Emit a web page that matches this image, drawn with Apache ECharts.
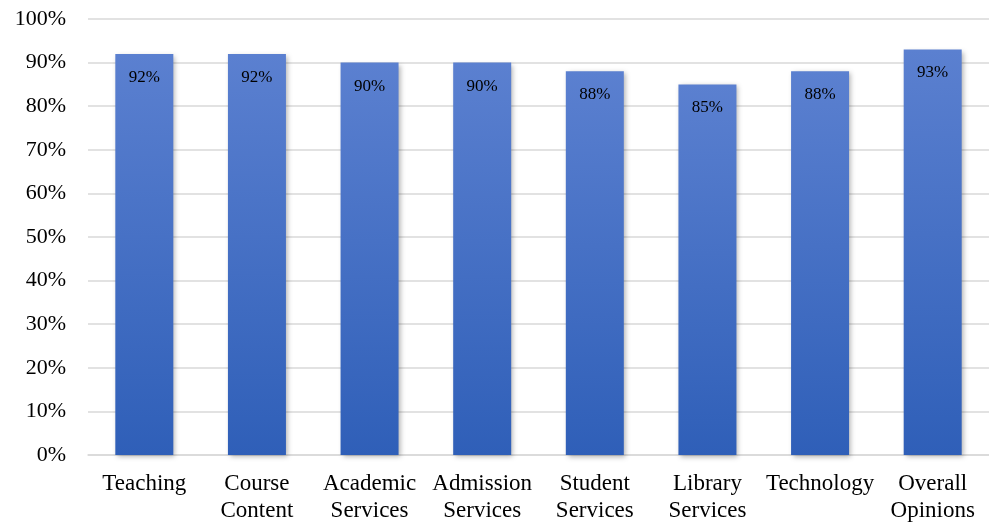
<!DOCTYPE html>
<html><head><meta charset="utf-8">
<script src="https://cdn.jsdelivr.net/npm/echarts@6/dist/echarts.min.js"></script>
<style>html,body{margin:0;padding:0;background:#fff}#c{width:989px;height:524px}</style>
</head><body><div id="c"></div>
<script>
const categories = ["Teaching","Course\nContent","Academic\nServices","Admission\nServices","Student\nServices","Library\nServices","Technology","Overall\nOpinions"];
const values = [92,92,90,90,88,85,88,93];
const yTicks = [0,10,20,30,40,50,60,70,80,90,100];

const chart = echarts.init(document.getElementById('c'));
const font = '"Liberation Serif","Times New Roman",serif';
chart.setOption({
  animation:false,
  grid:{left:88,right:0,top:19,bottom:68,containLabel:false},
  xAxis:{type:'category',data:categories,
    axisLine:{lineStyle:{color:'#d9d9d9',width:1.5}},axisTick:{show:false},
    axisLabel:{color:'#000',fontFamily:font,fontSize:23,margin:15,lineHeight:27,interval:0}},
  yAxis:{type:'value',min:yTicks[0],max:yTicks[yTicks.length-1],interval:10,
    axisLine:{show:false},axisTick:{show:false},
    splitLine:{lineStyle:{color:'#d9d9d9',width:1.5}},
    axisLabel:{color:'#000',fontFamily:font,fontSize:22,margin:22,formatter:v=>v+'%'}},
  series:[{type:'bar',data:values,barWidth:58,
    itemStyle:{color:new echarts.graphic.LinearGradient(0,0,0,1,[{offset:0,color:'#5b80d0'},{offset:1,color:'#2f5fb8'}]),
      shadowColor:'rgba(0,0,0,0.3)',shadowBlur:5,shadowOffsetX:2,shadowOffsetY:2},
    label:{show:true,position:'insideTop',distance:15,color:'#000',fontFamily:font,fontSize:17,formatter:p=>p.value+'%'}}]
});
</script></body></html>
